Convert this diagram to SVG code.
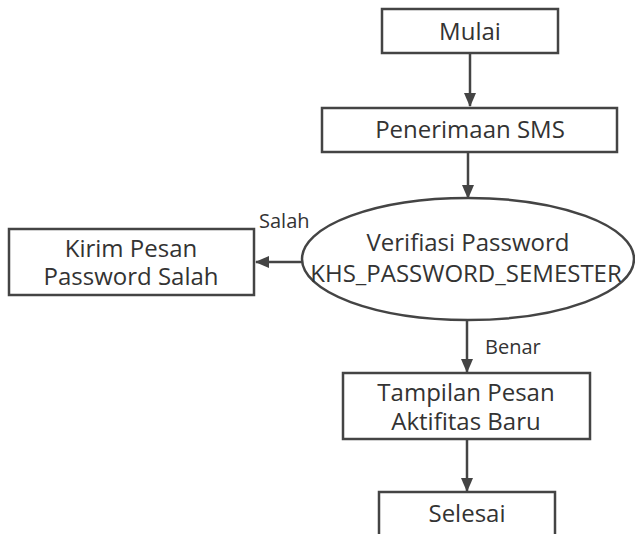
<svg xmlns="http://www.w3.org/2000/svg" width="635" height="534" viewBox="0 0 635 534">
<defs>
<marker id="ah" markerWidth="14" markerHeight="14" refX="13" refY="6" orient="auto" markerUnits="userSpaceOnUse" viewBox="0 0 14 12">
<path d="M0,0 L14,6 L0,12 z" fill="#444"/>
</marker>
<style>
.n{fill:#fff;stroke:#444;stroke-width:2.5}
.t{font-family:"Open Sans",sans-serif;font-size:24px;fill:#333;text-anchor:middle}
.l{font-family:"Open Sans",sans-serif;font-size:20px;fill:#333}
.c{stroke:#444;stroke-width:2.5;fill:none;marker-end:url(#ah)}
</style>
</defs>
<rect width="635" height="534" fill="#fff"/>
<g id="connectors">
<line class="c" x1="470" y1="53" x2="470" y2="106"/>
<line class="c" x1="468" y1="152" x2="468" y2="198"/>
<line class="c" x1="302" y1="262" x2="256" y2="262"/>
<line class="c" x1="467" y1="320" x2="467" y2="372"/>
<line class="c" x1="467" y1="439" x2="467" y2="491"/>
<text class="l" x="259" y="228">Salah</text>
<text class="l" x="485" y="354">Benar</text>
</g>
<g id="mulai">
<rect class="n" x="382" y="9" width="176" height="44"/>
<text class="t" x="470" y="40">Mulai</text>
</g>
<g id="penerimaan">
<rect class="n" x="322" y="108" width="295" height="44"/>
<text class="t" x="470" y="138">Penerimaan SMS</text>
</g>
<g id="verifikasi">
<ellipse class="n" cx="468" cy="259" rx="166" ry="61"/>
<text class="t" x="468" y="251">Verifiasi Password</text>
<text class="t" x="466" y="282">KHS_PASSWORD_SEMESTER</text>
</g>
<g id="kirim">
<rect class="n" x="9" y="229" width="245" height="66"/>
<text class="t" x="131" y="257">Kirim Pesan</text>
<text class="t" x="131" y="285">Password Salah</text>
</g>
<g id="tampilan">
<rect class="n" x="343" y="373" width="247" height="66"/>
<text class="t" x="466" y="401">Tampilan Pesan</text>
<text class="t" x="466" y="430">Aktifitas Baru</text>
</g>
<g id="selesai">
<rect class="n" x="379" y="492" width="176" height="50"/>
<text class="t" x="467" y="522">Selesai</text>
</g>
</svg>
